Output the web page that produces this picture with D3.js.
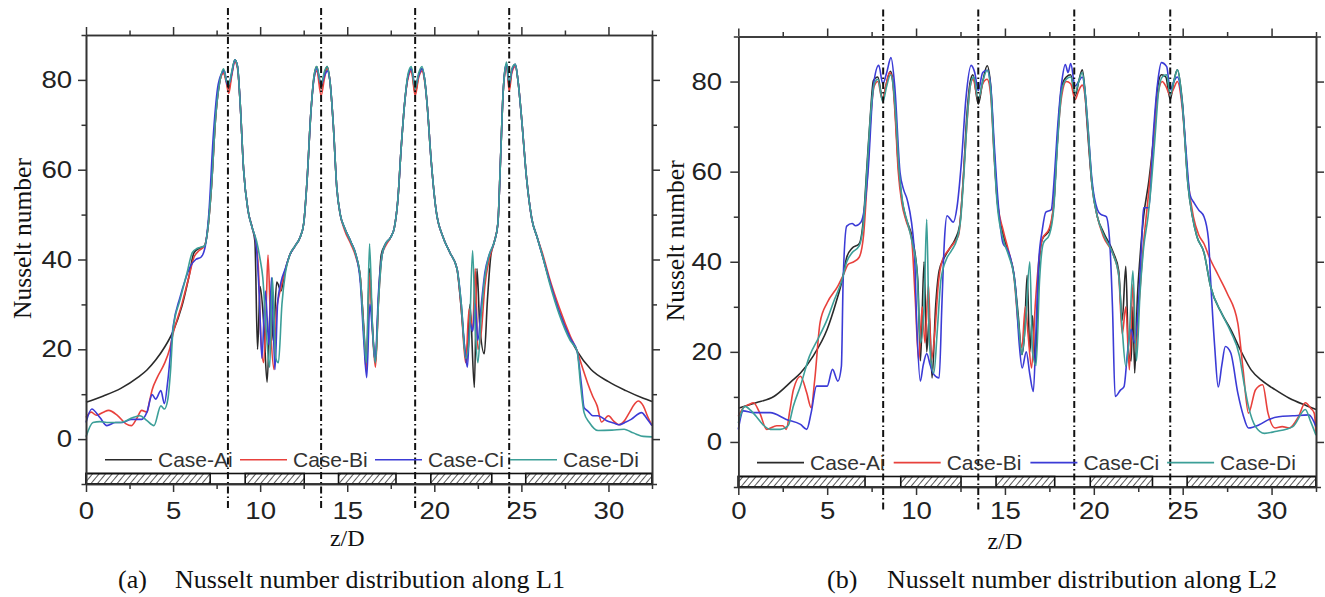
<!DOCTYPE html>
<html><head><meta charset="utf-8">
<script src="https://cdn.jsdelivr.net/npm/d3@7"></script>
<style>
html,body{margin:0;padding:0;background:#fff;}
svg{display:block;}
</style></head>
<body>
<svg id="chart" width="1325" height="597"></svg>
<script>
// ---------- DATA ----------
const seriesNames = ["Case-Ai", "Case-Bi", "Case-Ci", "Case-Di"];
const seriesColors = ["#2a2a2a", "#e8413c", "#3b3bd6", "#3c9f98"];
const xMajorTicks = [0, 5, 10, 15, 20, 25, 30];
const xMinorTicks = [2.5, 7.5, 12.5, 17.5, 22.5, 27.5, 32.5];
const yMajorTicks = [0, 20, 40, 60, 80];
const yMinorTicks = [-10, 10, 30, 50, 70, 90];
const jetLines = [8.15, 13.5, 18.9, 24.3];
const hatchSegments = [[0, 7.13], [9.14, 12.53], [14.5, 17.8], [19.8, 23.3], [25.25, 32.5]];
const captionsLetter = ["(a)", "(b)"];
const captionsText = ["Nusselt number distribution along L1", "Nusselt number distribution along L2"];

const L1_A = [[0,8.2],[1,9.6],[2,11.3],[3,13.8],[3.5,15.4],[4,17.6],[4.5,20.4],[5,24],[5.5,29.5],[5.9,36],[6.2,41.5],[6.5,42.5],[6.8,43],[7.0,47],[7.2,56],[7.45,72],[7.7,80],[7.9,82],[8.05,80],[8.2,78],[8.35,81],[8.55,84.5],[8.7,83],[8.85,75],[9.05,60],[9.3,51],[9.55,47],[9.7,44],[9.85,20],[10.0,34],[10.2,26],[10.4,12.7],[10.6,31],[10.75,22],[10.95,35],[11.2,33],[11.4,37],[11.7,41],[12.0,43],[12.3,45],[12.5,48],[12.7,58],[12.9,72],[13.1,81],[13.25,83],[13.5,78],[13.7,81.5],[13.85,83],[14.0,80],[14.2,70],[14.4,56],[14.6,50],[14.85,47],[15.2,44],[15.5,41],[15.75,36],[15.95,25],[16.1,16],[16.28,38],[16.45,25],[16.62,17],[16.78,30],[16.95,41],[17.2,43.5],[17.5,45],[17.7,47],[17.9,53],[18.1,65],[18.3,75],[18.5,81],[18.68,82.5],[18.9,77],[19.1,81],[19.3,82.5],[19.45,80],[19.6,74],[19.8,63],[20.1,51],[20.5,45],[20.9,41.5],[21.3,38],[21.5,31],[21.7,22],[21.85,17],[22.05,30],[22.3,11.5],[22.45,38],[22.6,26],[22.87,19],[23.05,31],[23.25,41],[23.45,44],[23.65,48],[23.8,62],[23.95,77],[24.05,82],[24.15,83.5],[24.3,78.5],[24.45,82],[24.65,83.5],[24.8,80],[25.0,72],[25.3,58],[25.6,49],[25.9,45],[26.2,41],[26.6,35.5],[27.2,28],[27.8,22.5],[28.2,19.6],[29,15.5],[30,12.8],[31,10.8],[32,9.1],[32.5,8.4]];
const L1_B = [[0,4.8],[0.3,6],[0.6,5.3],[1.0,6],[1.3,6.4],[1.8,5.3],[2.3,3.4],[2.6,3],[2.9,4.5],[3.2,6.4],[3.5,6],[3.65,8.5],[3.8,11],[4.1,13.8],[4.5,16.8],[4.8,20],[5.0,23.5],[5.5,30],[5.9,36],[6.2,40.5],[6.5,42],[6.8,43],[7.0,47],[7.2,56],[7.45,72],[7.7,80],[7.9,81.5],[8.05,79.5],[8.2,77],[8.35,80.5],[8.55,84],[8.7,82.5],[8.85,75],[9.05,60],[9.3,51],[9.55,47],[9.75,44],[9.9,38],[10.05,22],[10.2,17],[10.35,30],[10.45,41],[10.6,25],[10.8,15.5],[10.95,29],[11.15,33],[11.4,37],[11.7,41],[12.0,43],[12.3,45],[12.5,48],[12.7,58],[12.9,72],[13.1,80.5],[13.25,82],[13.5,76.5],[13.7,80.5],[13.85,82.5],[14.0,80],[14.2,70],[14.4,56],[14.6,50],[14.85,46.5],[15.2,43.5],[15.5,40.5],[15.75,36],[15.95,24],[16.1,15],[16.3,37],[16.45,24],[16.62,16],[16.8,31],[17.0,41],[17.2,43],[17.5,45],[17.7,47],[17.9,53],[18.1,65],[18.3,75],[18.5,80.5],[18.68,82],[18.9,76.5],[19.1,80.5],[19.3,82],[19.45,79.5],[19.6,74],[19.8,63],[20.1,51],[20.5,45],[20.9,41.5],[21.3,38],[21.55,29],[21.8,17],[22.0,29],[22.2,24],[22.35,38],[22.5,20],[22.7,24],[22.9,34],[23.15,40],[23.45,44],[23.65,48],[23.8,62],[23.95,77],[24.05,81.5],[24.15,83],[24.3,77.5],[24.45,81.5],[24.65,83],[24.8,80],[25.0,72],[25.3,58],[25.6,49],[25.9,45],[26.2,41.5],[26.6,36],[27.2,29],[27.8,23],[28.2,19.6],[28.5,16],[28.8,12.5],[29.1,9.5],[29.35,7.4],[29.6,3.8],[30.0,5.2],[30.3,4.0],[30.6,3.2],[30.9,4.0],[31.2,5.9],[31.5,7.8],[31.7,8.5],[32.0,7.4],[32.25,5],[32.5,3]];
const L1_C = [[0,3.7],[0.33,6.7],[0.8,4.8],[1.2,3],[1.7,3.7],[2.1,3.7],[2.6,4.4],[3.2,4.4],[3.5,6],[3.8,9.9],[4.0,8.9],[4.3,10.8],[4.5,7.9],[4.7,13.1],[5.0,25],[5.4,31.6],[5.7,35.5],[6.0,38.5],[6.3,40],[6.6,40.5],[6.85,43],[7.05,50],[7.3,67],[7.55,78],[7.8,81.5],[7.95,82],[8.1,79],[8.25,79.5],[8.4,82],[8.55,84.5],[8.7,83],[8.85,75],[9.05,60],[9.3,51],[9.55,47],[9.75,44],[9.95,32],[10.1,18],[10.3,33],[10.5,21],[10.65,36],[10.85,15.5],[11.0,30],[11.2,35],[11.45,38],[11.7,41],[12.0,43],[12.3,45],[12.5,48],[12.7,58],[12.9,72],[13.1,80.5],[13.25,82.5],[13.5,79],[13.7,81],[13.85,82],[14.0,80],[14.2,70],[14.4,56],[14.6,50],[14.85,47],[15.2,44],[15.5,41],[15.75,35],[15.95,22],[16.12,13.7],[16.3,30],[16.45,24],[16.6,17.4],[16.8,33],[17.0,41],[17.2,43.5],[17.5,45],[17.7,47],[17.9,53],[18.1,65],[18.3,75],[18.5,81],[18.68,82.5],[18.9,78.5],[19.1,81],[19.3,82.5],[19.45,80],[19.6,74],[19.8,63],[20.1,51],[20.5,45],[20.9,41.5],[21.3,38],[21.55,30],[21.75,20],[21.9,16],[22.05,26],[22.2,24],[22.35,30],[22.5,22],[22.7,30],[22.9,37],[23.15,41],[23.45,44],[23.65,48],[23.8,62],[23.95,77],[24.05,82],[24.15,83.5],[24.3,79],[24.45,82],[24.65,83.5],[24.8,80],[25.0,72],[25.3,58],[25.6,49],[25.9,45],[26.2,41],[26.6,35.5],[27.2,28],[27.8,22.5],[28.2,19.6],[28.45,12],[28.6,7],[28.8,6.3],[29.1,5.2],[29.4,5.2],[29.9,4.1],[30.3,3.6],[30.6,3.2],[31.0,3.8],[31.3,4.4],[31.9,5.9],[32.2,4.6],[32.5,3]];
const L1_D = [[0,0.5],[0.4,3.7],[0.8,3.9],[1.2,3.7],[2.0,3.7],[2.7,4.8],[3.1,5.2],[3.5,4.1],[3.9,3],[4.3,7.4],[4.5,6.7],[4.7,8.9],[4.85,15],[5.0,24.4],[5.4,31],[5.8,37],[6.1,41.5],[6.4,42.5],[6.8,43],[7.0,47],[7.2,56],[7.45,72],[7.7,80],[7.9,82.5],[8.05,80],[8.2,79],[8.35,81.5],[8.55,84.5],[8.7,83],[8.85,75],[9.05,60],[9.3,51],[9.55,47],[9.8,44],[10.0,40],[10.15,36],[10.35,24],[10.55,16],[10.7,36],[10.9,18],[11.05,17],[11.25,30],[11.45,37],[11.7,41],[12.0,43],[12.3,45],[12.5,48],[12.7,58],[12.9,72],[13.1,81],[13.25,83],[13.5,79],[13.7,82],[13.85,83],[14.0,80],[14.2,70],[14.4,56],[14.6,50],[14.85,47],[15.2,44],[15.5,41],[15.75,36],[15.95,24],[16.1,17],[16.28,43.5],[16.45,25],[16.62,17],[16.8,31],[17.0,41],[17.2,43.5],[17.5,45],[17.7,47],[17.9,53],[18.1,65],[18.3,75],[18.5,81.5],[18.68,83],[18.9,78],[19.1,81.5],[19.3,83],[19.45,80],[19.6,74],[19.8,63],[20.1,51],[20.5,45],[20.9,41.5],[21.3,38],[21.55,30],[21.8,18],[22.0,22],[22.2,42],[22.35,25],[22.5,17],[22.7,28],[22.9,36],[23.15,41],[23.45,44],[23.65,48],[23.8,62],[23.95,77],[24.05,82],[24.15,84],[24.3,79],[24.45,82.5],[24.65,83.5],[24.8,80],[25.0,72],[25.3,58],[25.6,49],[25.9,45],[26.2,41],[26.6,35],[27.2,27.5],[27.8,22],[28.2,19.6],[28.4,12],[28.6,5.9],[28.9,3.7],[29.4,1.9],[30.2,2],[30.9,2.2],[31.3,1.6],[31.6,1.1],[32.0,0.6],[32.5,0.5]];

const L2_A = [[0,7.5],[1,8.7],[2,10.1],[3,13.5],[3.5,15.3],[4.2,19],[5.0,25],[5.5,31],[5.85,36],[6.1,41],[6.4,43],[6.8,44],[7.05,50],[7.25,62],[7.42,72],[7.6,80.2],[7.85,81],[8.13,76],[8.3,79],[8.56,82.3],[8.7,80],[8.8,75],[9.0,61.5],[9.2,54],[9.4,50.1],[9.8,45],[10.1,35.7],[10.25,18],[10.45,40],[10.6,20],[10.75,28],[10.9,14.2],[11.1,30],[11.3,38],[11.6,41],[11.9,43],[12.2,45],[12.45,48],[12.65,58],[12.85,72],[13.05,80],[13.2,81.5],[13.5,75],[13.75,80],[14.0,83.5],[14.2,79],[14.4,64],[14.56,54],[14.9,46],[15.2,42],[15.5,37.4],[15.75,28],[15.95,19.4],[16.1,24],[16.25,37],[16.4,20],[16.55,28],[16.7,17],[16.9,38],[17.1,45],[17.5,47],[17.75,53],[17.94,66],[18.2,79],[18.45,81],[18.7,81.5],[18.95,76.8],[19.15,80],[19.35,82.6],[19.5,78],[19.6,72],[19.9,57],[20.2,50],[20.55,46.5],[21.1,42],[21.4,38],[21.6,27],[21.8,39],[21.95,20],[22.1,18],[22.2,30],[22.3,15.3],[22.45,32],[22.6,41],[22.8,50],[23.1,58],[23.35,67],[23.6,79],[23.8,81.5],[24.05,81],[24.3,76],[24.5,80],[24.7,82.6],[24.98,75.5],[25.3,57],[25.55,50],[25.8,45.6],[26.2,42],[26.57,34.5],[27.2,28.5],[27.7,25],[28.3,20],[28.85,16],[29.5,13.5],[30.2,11.6],[31,9.7],[32,8],[32.5,7.2]];
const L2_B = [[0,5.7],[0.28,7.6],[0.6,8.3],[0.85,8.7],[1.2,6.5],[1.6,2.8],[2.16,3.6],[2.5,3.6],[2.7,2.8],[2.9,7],[3.1,11.6],[3.5,14.6],[3.85,10.9],[4.1,7.6],[4.3,13.8],[4.6,26.5],[5.0,30.9],[5.6,34.6],[5.9,37],[6.2,39.5],[6.5,40],[6.8,41],[7.05,46],[7.25,58],[7.45,72],[7.65,79],[7.85,80],[8.1,76],[8.3,79],[8.5,82],[8.65,81],[8.8,74],[9.0,60],[9.2,53],[9.45,49],[9.75,45],[9.95,32],[10.15,18.1],[10.35,30],[10.5,22],[10.7,35],[10.85,18],[11.05,24],[11.25,35],[11.45,40],[11.8,42.5],[12.1,44],[12.4,46],[12.6,55],[12.85,70],[13.05,79],[13.2,80.5],[13.5,76],[13.75,79.5],[14.0,80.5],[14.2,77],[14.4,63],[14.56,54],[14.9,47],[15.2,42.5],[15.5,37],[15.75,26],[15.95,21],[16.15,30],[16.3,24],[16.5,16.4],[16.7,30],[16.9,40],[17.1,45],[17.5,47.5],[17.75,53],[17.94,66],[18.2,77],[18.45,80],[18.7,79.5],[18.95,76],[19.15,78],[19.35,79.2],[19.5,77],[19.65,70],[19.9,57],[20.2,50],[20.55,45.5],[21.1,41.5],[21.4,37],[21.6,24],[21.8,30],[22.0,16],[22.2,35],[22.35,20],[22.55,31],[22.75,42],[23.0,52],[23.2,60],[23.4,69],[23.6,77],[23.85,80],[24.05,79],[24.3,77],[24.5,78.5],[24.7,80],[24.98,74],[25.3,58],[25.6,50],[25.9,46],[26.2,44],[26.5,41],[27.0,37],[27.5,33],[28.1,26.4],[28.4,16],[28.7,6.4],[29.1,11.6],[29.5,12.7],[29.8,6.4],[30.2,3.1],[30.6,3.4],[31.0,3.1],[31.5,5.5],[31.9,8.7],[32.2,7.5],[32.4,6.4],[32.5,2]];
const L2_C = [[0,2.8],[0.28,6.9],[0.85,6.5],[1.8,6.5],[2.7,5.0],[3.5,3.9],[3.85,2.8],[4.1,6.5],[4.4,12.4],[5.0,12.4],[5.3,16.1],[5.6,13.5],[5.8,16.8],[5.9,36],[6.1,47.9],[6.4,48.5],[6.6,48],[6.9,48.8],[7.1,52],[7.3,60],[7.6,79],[7.9,83.6],[8.13,79.5],[8.35,82],[8.59,85.3],[8.8,79],[9.1,59.8],[9.3,56],[9.5,53.8],[9.9,42.7],[10.05,25],[10.24,13.5],[10.4,17],[10.6,19.6],[10.8,17],[11.0,15],[11.3,14.2],[11.45,30],[11.6,45],[11.74,50.2],[12.1,48.8],[12.3,52],[12.55,62],[12.8,76],[13.1,83.6],[13.3,82],[13.5,78],[13.75,82],[14.0,82.5],[14.2,79],[14.4,66],[14.6,54],[14.9,44],[15.1,43],[15.3,41],[15.6,34],[15.8,22],[15.97,16.4],[16.2,20],[16.4,15],[16.6,11.2],[16.75,25],[16.9,40],[17.1,47],[17.3,51],[17.6,51.5],[17.8,60],[17.94,68.5],[18.2,80],[18.4,83.8],[18.55,82],[18.7,84],[18.95,79],[19.15,80],[19.35,81],[19.5,78],[19.65,71],[19.9,58],[20.2,51.6],[20.4,50.5],[20.7,50],[20.9,44],[21.05,30],[21.2,10.1],[21.5,11.5],[21.7,12.3],[21.9,20],[22.1,25],[22.3,22],[22.5,30],[22.7,45],[22.8,52],[23.1,52],[23.35,68.5],[23.6,80],[23.8,84.2],[24.1,83.3],[24.3,78.2],[24.5,80],[24.7,81],[24.98,75],[25.2,64],[25.4,55],[25.65,53],[25.9,51.5],[26.2,50],[26.45,45],[26.57,36],[26.8,21.2],[27.0,12.2],[27.2,17],[27.4,21.2],[27.7,19.8],[28.1,10.9],[28.4,6],[28.7,3.1],[29.3,3.8],[29.8,4.9],[30.4,5.6],[31.2,5.8],[32.1,6],[32.5,3.4]];
const L2_D = [[0,4.2],[0.38,7.9],[0.7,7],[1.0,5.7],[1.4,3.8],[1.8,2.8],[2.36,2.8],[2.8,3.6],[3.1,8],[3.5,12.5],[4.0,19],[4.5,23],[5.0,27.2],[5.4,31.5],[5.84,36],[6.1,40],[6.4,42],[6.8,43.5],[7.05,49],[7.25,61],[7.45,73],[7.65,79.5],[7.85,80.5],[8.13,75.5],[8.35,79],[8.56,81.5],[8.7,79.5],[8.85,73],[9.05,60],[9.25,53],[9.5,49],[9.8,44],[10.05,38],[10.25,22],[10.45,30],[10.6,49.4],[10.75,22],[11.0,15.3],[11.2,25],[11.4,36],[11.7,40.5],[12.0,42.5],[12.3,45],[12.5,49],[12.7,60],[12.9,73],[13.1,80],[13.25,81],[13.5,76],[13.75,80],[14.0,82.5],[14.2,78],[14.4,63],[14.56,53],[14.9,45],[15.2,41.5],[15.5,37],[15.75,27],[15.95,19.4],[16.15,26],[16.4,40],[16.55,20],[16.75,17],[16.95,36],[17.15,44],[17.5,46],[17.75,52],[17.94,65],[18.2,78],[18.45,80.5],[18.7,81],[18.95,77.5],[19.15,80],[19.35,82],[19.5,78],[19.65,71],[19.9,57],[20.2,50],[20.55,46],[21.1,41.5],[21.4,37],[21.6,25],[21.8,16.8],[22.0,24],[22.2,38],[22.4,18],[22.6,33],[22.8,43],[23.05,50],[23.25,58],[23.45,68],[23.65,78],[23.85,81],[24.1,81.5],[24.3,77],[24.5,80],[24.7,82.6],[24.98,75],[25.3,57],[25.55,50],[25.8,45.6],[26.2,42],[26.57,34.5],[27.2,28.5],[27.7,24.5],[28.2,19],[28.45,13],[28.7,7.9],[29.1,3.4],[29.6,1.9],[30.2,2.3],[31.2,3.4],[31.9,7.2],[32.2,4.5],[32.5,1.5]];

// ---------- LAYOUT ----------
const svg = d3.select("#chart");
svg.append("rect").attr("width", 1325).attr("height", 597).attr("fill", "#fff");

const defs = svg.append("defs");
const pat = defs.append("pattern").attr("id", "hatch").attr("patternUnits", "userSpaceOnUse")
  .attr("width", 5).attr("height", 5).attr("patternTransform", "rotate(40)");
pat.append("line").attr("x1", 0).attr("y1", 0).attr("x2", 0).attr("y2", 5)
  .attr("stroke", "#111").attr("stroke-width", 1.4);

const panels = [
  { data: [L1_A, L1_B, L1_C, L1_D], x0: 86, x1: 652, y0: 35, y1: 484, yPad: 4, xPad: 10, ylabX: 22, legX: 105, legStep: 135, capX1: 118, capX2: 175 },
  { data: [L2_A, L2_B, L2_C, L2_D], x0: 738.3, x1: 1316, y0: 36.5, y1: 487, yPad: 6, xPad: 7, ylabX: 675, legX: 757, legStep: 136.7, capX1: 827, capX2: 887 }
];

const axisColor = "#333";
const tickFont = "Arial, 'Liberation Sans', sans-serif";
const serif = "'Times New Roman', 'Liberation Serif', serif";

panels.forEach((p, pi) => {
  const x = d3.scaleLinear().domain([0, 32.5]).range([p.x0, p.x1]);
  const y = d3.scaleLinear().domain([-10, 90]).range([p.y1, p.y0]);
  const g = svg.append("g");

  // curves
  const line = d3.line().x(d => x(d[0])).y(d => y(d[1])).curve(d3.curveMonotoneX);
  p.data.forEach((s, i) => {
    g.append("path").datum(s).attr("d", line).attr("fill", "none")
      .attr("stroke", seriesColors[i]).attr("stroke-width", 1.6).attr("stroke-linejoin", "round");
  });

  // hatched bar
  const barH = 10.5;
  const bar = g.append("g");
  bar.append("rect").attr("x", x(0)).attr("y", y(-10) - barH).attr("width", x(32.5) - x(0)).attr("height", barH)
    .attr("fill", "#fff").attr("stroke", "#111").attr("stroke-width", 1.6);
  hatchSegments.forEach(sg => {
    bar.append("rect").attr("x", x(sg[0])).attr("y", y(-10) - barH).attr("width", x(sg[1]) - x(sg[0])).attr("height", barH)
      .attr("fill", "url(#hatch)").attr("stroke", "#111").attr("stroke-width", 1.6);
  });

  // axes
  const styleAxis = sel => {
    sel.select(".domain").attr("stroke", axisColor).attr("stroke-width", 1.6);
    sel.selectAll(".tick line").attr("stroke", axisColor).attr("stroke-width", 1.5);
  };
  const fmt = d => d3.format("d")(d);
  const ab = g.append("g").attr("transform", `translate(0,${y(-10)})`)
    .call(d3.axisBottom(x).tickValues(xMajorTicks).tickSize(8).tickSizeOuter(0).tickPadding(p.xPad).tickFormat(fmt));
  ab.call(styleAxis);
  ab.append("g").call(d3.axisBottom(x).tickValues(xMinorTicks).tickSize(5).tickSizeOuter(0).tickFormat(""))
    .call(styleAxis);
  const at = g.append("g").attr("transform", `translate(0,${y(90)})`)
    .call(d3.axisTop(x).tickValues(xMajorTicks).tickSize(8).tickSizeOuter(0).tickFormat(""));
  at.call(styleAxis);
  at.append("g").call(d3.axisTop(x).tickValues(xMinorTicks).tickSize(4.5).tickSizeOuter(0).tickFormat("")).call(styleAxis);
  const al = g.append("g").attr("transform", `translate(${x(0)},0)`)
    .call(d3.axisLeft(y).tickValues(yMajorTicks).tickSize(8).tickSizeOuter(0).tickPadding(p.yPad).tickFormat(fmt));
  al.call(styleAxis);
  al.append("g").call(d3.axisLeft(y).tickValues(yMinorTicks).tickSize(4.5).tickSizeOuter(0).tickFormat("")).call(styleAxis);
  const ar = g.append("g").attr("transform", `translate(${x(32.5)},0)`)
    .call(d3.axisRight(y).tickValues(yMajorTicks).tickSize(8).tickSizeOuter(0).tickFormat(""));
  ar.call(styleAxis);
  ar.append("g").call(d3.axisRight(y).tickValues(yMinorTicks).tickSize(5).tickSizeOuter(0).tickFormat("")).call(styleAxis);

  [ab, al].forEach(a => a.selectAll(".tick text")
    .attr("font-family", tickFont).attr("font-size", 24).attr("fill", "#222")
    .attr("transform", "scale(1.15,1)"));

  // jet / dash-dot lines
  jetLines.forEach(z => {
    g.append("line").attr("x1", x(z)).attr("x2", x(z)).attr("y1", y(90) - 27).attr("y2", y(-10) + 24)
      .attr("stroke", "#111").attr("stroke-width", 2).attr("stroke-dasharray", "7,3,1.5,3");
  });

  // legend
  const ly = y(-4.6);
  seriesNames.forEach((nm, i) => {
    const lx = p.legX + i * p.legStep;
    g.append("line").attr("x1", lx).attr("x2", lx + 47).attr("y1", ly).attr("y2", ly)
      .attr("stroke", seriesColors[i]).attr("stroke-width", 1.6);
    g.append("text").attr("x", lx + 53).attr("y", ly).attr("dominant-baseline", "central")
      .attr("font-family", tickFont).attr("font-size", 21).attr("fill", "#333").text(nm);
  });

  // axis titles
  g.append("text").attr("transform", `translate(${p.ylabX},${(p.y0 + p.y1) / 2 - 21}) rotate(-90)`)
    .attr("text-anchor", "middle").attr("dominant-baseline", "central")
    .attr("font-family", serif).attr("font-size", 25.5).attr("fill", "#111").text("Nusselt number");
  g.append("text").attr("x", x(15)).attr("y", p.y1 + 62).attr("text-anchor", "middle")
    .attr("font-family", serif).attr("font-size", 24).attr("fill", "#111").text("z/D");

  // caption
  g.append("text").attr("x", p.capX1).attr("y", 588).attr("font-family", serif).attr("font-size", 26)
    .attr("fill", "#111").text(captionsLetter[pi]);
  g.append("text").attr("x", p.capX2).attr("y", 588).attr("font-family", serif).attr("font-size", 26)
    .attr("fill", "#111").text(captionsText[pi]);
});
</script>
</body></html>
